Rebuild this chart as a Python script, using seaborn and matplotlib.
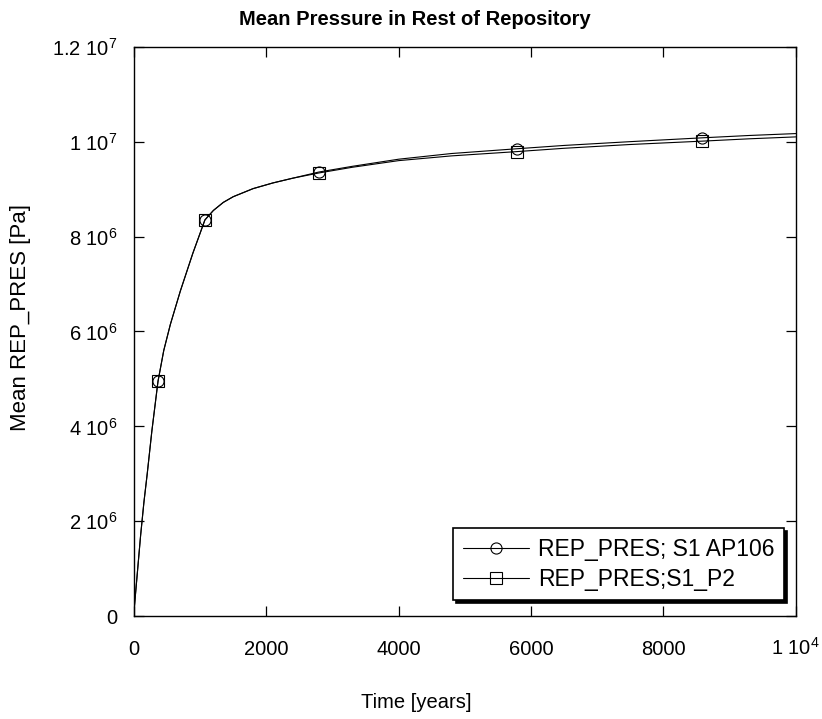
import matplotlib
matplotlib.use("Agg")
import matplotlib.pyplot as plt
import seaborn as sns
import pandas as pd
import numpy as np

# ---- data ----
time_years = [0, 50, 100, 150, 200, 270, 363, 450, 550, 700, 890, 1072, 1200, 1350, 1500,
              1800, 2100, 2400, 2795, 3300, 4000, 4800, 5785, 6500, 7500, 8580, 9300, 10000]
pres_p2 = [0.10, 0.90, 1.70, 2.40, 3.00, 3.90, 4.95, 5.60, 6.15, 6.85, 7.65, 8.35, 8.55, 8.72, 8.84,
           9.01, 9.13, 9.23, 9.34, 9.46, 9.60, 9.70, 9.79, 9.86, 9.94, 10.01, 10.06, 10.10]
pres_ap106 = [0.10, 0.90, 1.70, 2.40, 3.00, 3.90, 4.95, 5.60, 6.15, 6.85, 7.65, 8.35, 8.55, 8.72, 8.84,
              9.01, 9.13, 9.23, 9.36, 9.48, 9.63, 9.75, 9.85, 9.92, 10.00, 10.08, 10.13, 10.17]
marker_times = [363, 1072, 2795, 5785, 8580]
series_names = ["REP_PRES; S1 AP106", "REP_PRES;S1_P2"]
x_ticks = [0, 2000, 4000, 6000, 8000, 10000]
x_ticklabels = ["0", "2000", "4000", "6000", "8000", "1 10$^{4}$"]
y_ticks = [0, 2e6, 4e6, 6e6, 8e6, 1e7, 1.2e7]
y_ticklabels = ["0", "2 10$^{6}$", "4 10$^{6}$", "6 10$^{6}$", "8 10$^{6}$",
                "1 10$^{7}$", "1.2 10$^{7}$"]
title = "Mean Pressure in Rest of Repository"
xlabel = "Time [years]"
ylabel = "Mean REP_PRES [Pa]"

sns.set_style("ticks")
plt.rcParams["font.family"] = ["Liberation Sans", "DejaVu Sans"]
plt.rcParams["mathtext.default"] = "regular"
plt.rcParams["text.color"] = "black"
plt.rcParams["axes.labelcolor"] = "black"

fig = plt.figure(figsize=(8.22, 7.19), dpi=100)
ax = fig.add_axes([0.163, 0.143, 0.805, 0.792])

df_ap = pd.DataFrame({"t": time_years, "p": np.array(pres_ap106) * 1e6})
df_p2 = pd.DataFrame({"t": time_years, "p": np.array(pres_p2) * 1e6})
mk_idx = [time_years.index(t) for t in marker_times]

sns.lineplot(data=df_ap, x="t", y="p", ax=ax, color="black", lw=0.8, marker="o",
             markersize=8, markerfacecolor="none", markeredgecolor="black",
             markeredgewidth=0.8, markevery=mk_idx, label=series_names[0], sort=False)
sns.lineplot(data=df_p2, x="t", y="p", ax=ax, color="black", lw=0.8, marker="s",
             markersize=8, markerfacecolor="none", markeredgecolor="black",
             markeredgewidth=0.8, markevery=mk_idx, label=series_names[1], sort=False)

ax.set_xlim(0, 10000)
ax.set_ylim(0, 1.2e7)
ax.set_xticks(x_ticks)
ax.set_xticklabels(x_ticklabels, fontsize=14.5)
ax.set_yticks(y_ticks)
ax.set_yticklabels(y_ticklabels, fontsize=14.5)
ax.tick_params(direction="in", top=True, right=True, length=7, width=0.9,
               colors="black")
ax.tick_params(axis="y", pad=12)
ax.tick_params(axis="x", pad=28)
for lbl in ax.get_xticklabels():
    lbl.set_verticalalignment("baseline")
for lbl in ax.get_yticklabels():
    lbl.set_verticalalignment("center_baseline")
for s in ax.spines.values():
    s.set_visible(True)
    s.set_linewidth(1.0)
    s.set_color("black")

fig.text(0.505, 0.986, title, fontsize=14.5, fontweight="bold", ha="center", va="top")
ax.set_xlabel(xlabel, fontsize=14.5)
ax.xaxis.set_label_coords((416 - 134) / 662, -0.135)
ax.set_ylabel(ylabel, fontsize=16)
ax.yaxis.set_label_coords((31 - 134) / 662, (616 - 318) / 569)

leg = ax.legend(loc="lower right", bbox_to_anchor=(0.983, 0.028), fontsize=16.5,
                frameon=True, fancybox=False, shadow={"color": "black", "alpha": 1},
                handlelength=2.9, handletextpad=0.4, borderpad=0.42, labelspacing=0.3,
                borderaxespad=0)
leg.get_frame().set_edgecolor("black")
leg.get_frame().set_linewidth(1.2)
leg.get_frame().set_alpha(1)

fig.savefig("out.png", dpi=100)
